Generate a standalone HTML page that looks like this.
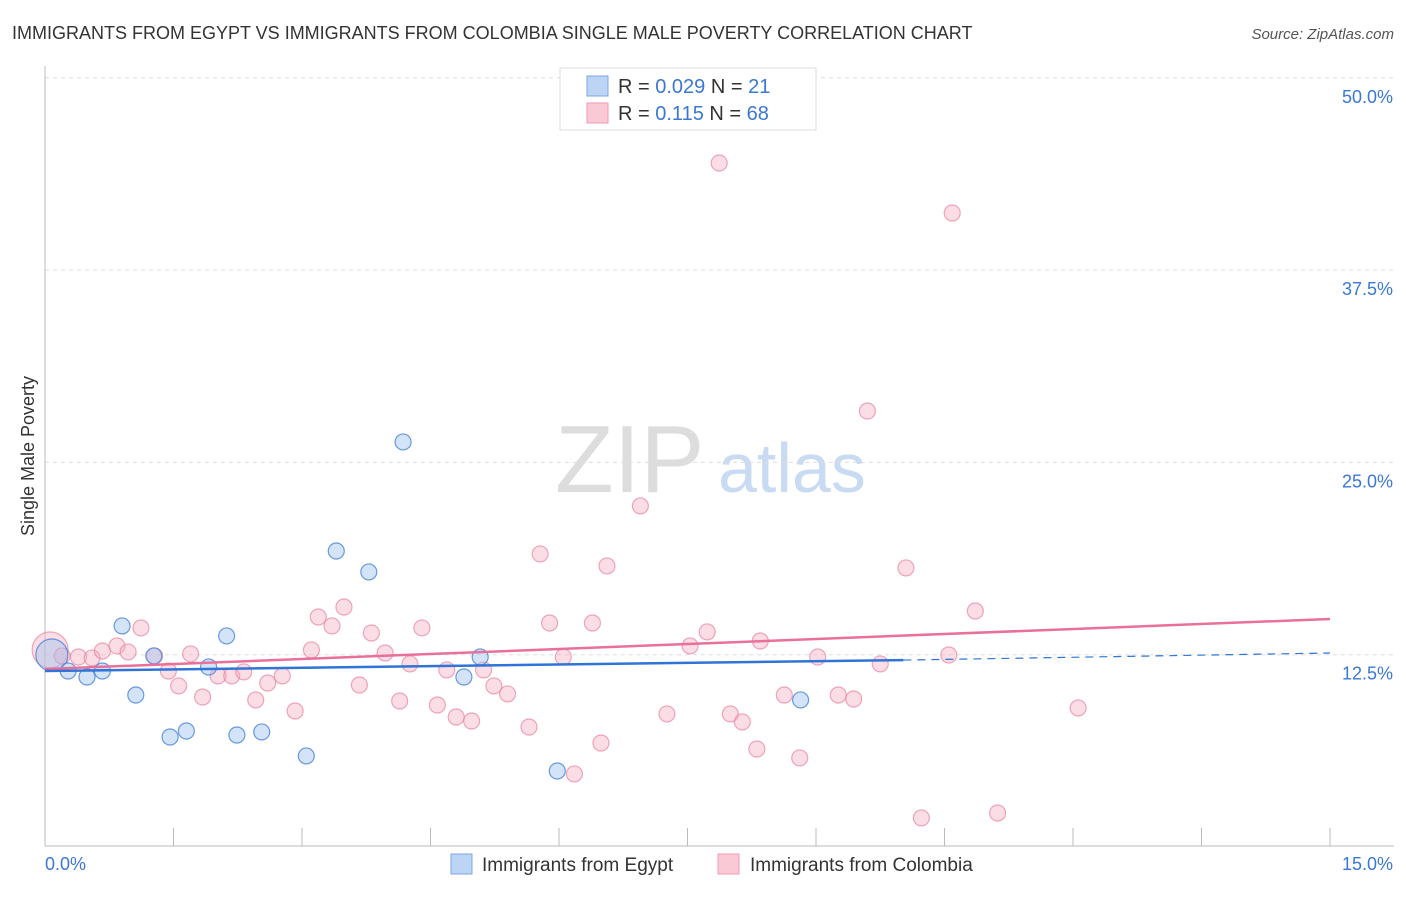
<!DOCTYPE html>
<html><head><meta charset="utf-8"><style>
body{margin:0;background:#fff;font-family:"Liberation Sans",sans-serif}
svg text{font-family:"Liberation Sans",sans-serif}
</style></head><body>
<svg id="c" width="1406" height="892">
<text x="12" y="39" font-size="18" fill="#333">IMMIGRANTS FROM EGYPT VS IMMIGRANTS FROM COLOMBIA SINGLE MALE POVERTY CORRELATION CHART</text>
<text x="1394" y="39" font-size="15" fill="#555" font-style="italic" text-anchor="end">Source: ZipAtlas.com</text>
<text x="34" y="456" font-size="18" fill="#333" text-anchor="middle" transform="rotate(-90 34 456)">Single Male Poverty</text>
<text x="555" y="492" font-size="96" fill="#ddd" font-family="Liberation Serif">ZIP</text>
<text x="718" y="492" font-size="70" fill="#c9daf3">atlas</text>
<g id="grid"></g><g id="pts"></g><g id="lines"></g>
<g>
<rect x="560" y="68" width="256" height="62" fill="#fff" stroke="#ddd"/>
<rect x="587" y="76" width="21" height="20" fill="#bcd5f5" stroke="#7aa7e8"/>
<rect x="587" y="103" width="21" height="20" fill="#f9c9d6" stroke="#ee9ab2"/>
<text x="618" y="93" font-size="20" fill="#333">R = <tspan fill="#3a78d4">0.029</tspan>   N =  <tspan fill="#3a78d4">21</tspan></text>
<text x="618" y="120" font-size="20" fill="#333">R =   <tspan fill="#3a78d4">0.115</tspan>   N = <tspan fill="#3a78d4">68</tspan></text>
</g>
<g>
<rect x="451" y="854" width="21" height="20" fill="#bcd5f5" stroke="#7aa7e8"/>
<text x="482" y="871" font-size="19" fill="#333">Immigrants from Egypt</text>
<rect x="718" y="854" width="21" height="20" fill="#f9c9d6" stroke="#ee9ab2"/>
<text x="750" y="871" font-size="19" fill="#333">Immigrants from Colombia</text>
</g>
</svg>
<script>
const yTicks=[12.5,25,37.5,50];
const xTickLabels=["0.0%","15.0%"];
const egyptX=[0.08,0.27,0.49,0.67,0.90,1.06,1.27,1.46,1.65,1.91,2.12,2.24,2.53,3.05,3.40,3.78,4.18,4.89,5.08,5.98,8.82];
const egyptY=[12.48,11.44,11.05,11.44,14.37,9.88,12.42,7.15,7.54,11.7,13.72,7.28,7.48,5.92,19.24,17.88,26.33,11.05,12.35,4.94,9.56];
const colX=[0.06,0.20,0.39,0.55,0.67,0.84,0.97,1.12,1.28,1.44,1.56,1.70,1.84,2.02,2.18,2.32,2.46,2.60,2.77,2.92,3.11,3.19,3.35,3.49,3.67,3.81,3.97,4.14,4.26,4.40,4.58,4.69,4.80,4.98,5.12,5.24,5.40,5.65,5.78,5.89,6.05,6.18,6.39,6.49,6.56,6.95,7.26,7.53,7.73,7.87,8.00,8.14,8.31,8.35,8.63,8.81,9.02,9.26,9.44,9.60,9.75,10.05,10.23,10.55,10.59,10.86,11.12,12.06];
const colY=[12.81,12.42,12.35,12.29,12.74,13.07,12.68,14.24,12.42,11.44,10.47,12.55,9.75,11.12,11.12,11.38,9.56,10.66,11.12,8.84,12.81,14.95,14.37,15.60,10.53,13.91,12.61,9.49,11.90,14.24,9.23,11.51,8.45,8.19,11.51,10.47,9.95,7.80,19.05,14.56,12.35,4.75,14.56,6.76,18.27,22.17,8.65,13.07,13.98,44.46,8.65,8.13,6.37,13.39,9.88,5.79,12.35,9.88,9.62,28.34,11.90,18.14,1.89,12.48,41.21,15.34,2.21,9.04];
const egyptTrend=[[0,11.44],[10.02,12.15]];
const egyptTrendExt=[[10.02,12.15],[15,12.61]];
const colTrend=[[0,11.57],[15,14.82]];
const NS="http://www.w3.org/2000/svg";
const X=v=>45+v/15*1285, Y=v=>847-v/12.5*192.3;
function mk(p,t,a){const e=document.createElementNS(NS,t);for(const k in a)e.setAttribute(k,a[k]);p.appendChild(e);return e;}
const g=document.getElementById('grid');
yTicks.forEach(t=>{
 const l=mk(g,'line',{x1:45,x2:1394,y1:Y(t),y2:Y(t),stroke:'#ddd','stroke-dasharray':'4 4'});
 
 
 const tx=mk(g,'text',{x:1393,y:Y(t)+25,'font-size':18,fill:'#3a78d4','text-anchor':'end'});tx.textContent=t.toFixed(1)+'%';
 
 
});
mk(g,'line',{x1:45,x2:45,y1:66,y2:846,stroke:'#bbb'});
mk(g,'line',{x1:45,x2:1394,y1:846,y2:846,stroke:'#bbb'});
for(let i=0;i<=10;i++){const l=mk(g,'line',{x1:X(i*1.5),x2:X(i*1.5),y1:828,y2:846,stroke:'#bbb'});
 
 }
const t0=mk(g,'text',{x:45,y:870,'font-size':18,fill:'#3a78d4'});t0.textContent=xTickLabels[0];


const t1=mk(g,'text',{x:1393,y:870,'font-size':18,fill:'#3a78d4','text-anchor':'end'});t1.textContent=xTickLabels[1];


const p=document.getElementById('pts');
colX.forEach((x,i)=>{const c=mk(p,'circle',{cx:X(x),cy:Y(colY[i]),r:i==0?18:8,fill:'rgba(246,170,193,0.4)',stroke:'rgba(232,130,160,0.7)','stroke-width':1.2});
 
 });
egyptX.forEach((x,i)=>{const c=mk(p,'circle',{cx:X(x),cy:Y(egyptY[i]),r:i==0?16:8,fill:'rgba(160,195,240,0.45)',stroke:'rgba(70,130,215,0.8)','stroke-width':1.2});
 
 });
const L=document.getElementById('lines');
function ln(a,col,w,dash,name){const l=mk(L,'line',{x1:X(a[0][0]),y1:Y(a[0][1]),x2:X(a[1][0]),y2:Y(a[1][1]),stroke:col,'stroke-width':w});if(dash)l.setAttribute('stroke-dasharray',dash);
 
 }
ln(colTrend,'#e8709a',2.5,null,'colombia-trend-line');
ln(egyptTrend,'#2f74d6',2.5,null,'egypt-trend-line');
ln(egyptTrendExt,'#2f74d6',1.2,'8 6','egypt-trend-extension');
</script>
</body></html>
